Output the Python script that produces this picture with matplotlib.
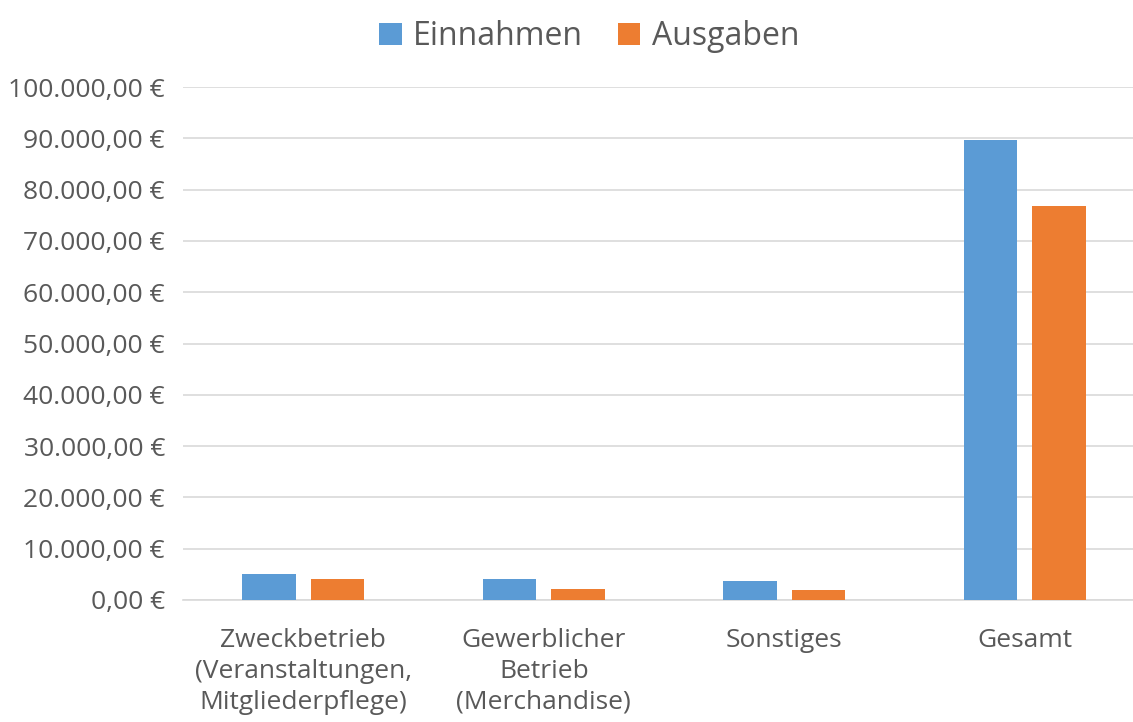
import matplotlib.pyplot as plt
import numpy as np
from matplotlib.ticker import FuncFormatter

plt.rcParams['font.family'] = ['Open Sans', 'DejaVu Sans']

categories = ['Zweckbetrieb\n(Veranstaltungen,\nMitgliederpflege)',
              'Gewerblicher\nBetrieb\n(Merchandise)',
              'Sonstiges',
              'Gesamt']
einnahmen = [5100, 4000, 3650, 89700]
ausgaben = [4000, 2200, 2000, 76800]

fig = plt.figure(figsize=(11.33, 7.22), dpi=100)
ax = fig.add_axes([183 / 1133, 1 - 600 / 722, 962 / 1133, 513 / 722])

x = np.arange(len(categories))
w = 0.224
off = (w + 0.061) / 2
ax.bar(x - off, einnahmen, w, color='#5b9bd5', label='Einnahmen', zorder=3)
ax.bar(x + off, ausgaben, w, color='#ed7d31', label='Ausgaben', zorder=3)

ax.set_xlim(-0.5, 3.5)
ax.set_ylim(0, 100000)
ax.set_yticks(np.arange(0, 100001, 10000))


def euro(v, pos):
    s = f'{v:,.2f}'.replace(',', 'X').replace('.', ',').replace('X', '.')
    return s + ' €'


ax.yaxis.set_major_formatter(FuncFormatter(euro))
ax.grid(axis='y', color='#d9d9d9', linewidth=1.2, zorder=0)
for s in ['top', 'right', 'left']:
    ax.spines[s].set_visible(False)
ax.spines['bottom'].set_color('#d9d9d9')
ax.spines['bottom'].set_linewidth(1.2)
ax.tick_params(length=0, labelsize=19, colors='#595959')
ax.tick_params(axis='y', pad=13)
ax.set_xticks(x)
ax.set_xticklabels(categories, linespacing=1.32, va='top')
ax.tick_params(axis='x', pad=20)

fig.legend(loc='upper center', bbox_to_anchor=(0.52, 1.012), ncol=2, frameon=False,
           fontsize=23, labelcolor='#595959', handlelength=0.7, handleheight=0.7,
           handletextpad=0.35, columnspacing=1.1)

fig.savefig('out.png', dpi=100)
